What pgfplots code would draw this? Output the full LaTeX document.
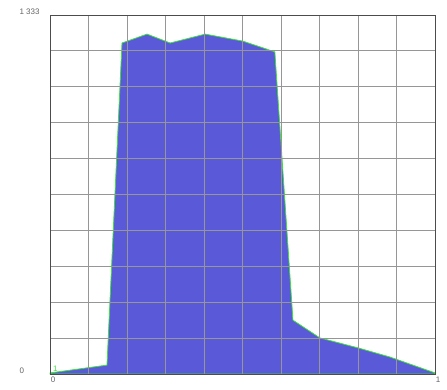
\documentclass[border=0pt]{standalone}
\usepackage{pgfplots}
\pgfplotsset{compat=1.18}
\usepackage{fontspec}
\setmainfont{Liberation Sans}
\definecolor{fillblue}{RGB}{90,90,216}
\definecolor{edgegreen}{RGB}{60,225,60}
\definecolor{gridgray}{RGB}{150,150,150}
\definecolor{labelgray}{RGB}{100,100,100}
\begin{document}
\begin{tikzpicture}[x=1pt,y=1pt]
\useasboundingbox (0,0) rectangle (447,389);
\begin{axis}[
  at={(50pt,15pt)}, anchor=south west,
  scale only axis, width=385pt, height=359pt,
  xmin=0, xmax=10, ymin=0, ymax=1333,
  xtick={0,10}, xticklabels={0,1},
  ytick={0,1333}, yticklabels={0,{1 333}},
  minor xtick={1,2,3,4,5,6,7,8,9},
  minor ytick={133.3,266.6,399.9,533.2,666.5,799.8,933.1,1066.4,1199.7},
  grid=both,
  major grid style={gridgray, line width=0.8pt},
  minor grid style={gridgray, line width=0.8pt},
  major tick length=0pt, minor tick length=0pt,
  axis line style={gray!60!black, line width=0.8pt},
  tick label style={font=\fontsize{8}{9}\selectfont, text=labelgray},
  yticklabel style={anchor=west, xshift=-34pt, yshift=3pt},
  xticklabel style={xshift=3pt, yshift=1pt},
  axis on top=true,
  clip=false,
]
\addplot[fill=fillblue, draw=edgegreen, line width=0.8pt] coordinates {
(0,4) (1.48,33) (1.87,1229) (2.52,1262) (3.12,1229) (4.03,1262) (5.01,1236)
(5.84,1196) (6.31,200) (7.01,134) (8.0,97) (8.83,63) (10,4)
} \closedcycle;
\node[text=edgegreen, font=\fontsize{8}{9}\selectfont, anchor=south west, inner sep=1pt] at (axis cs:0.05,6) {1};
\end{axis}
\end{tikzpicture}
\end{document}
